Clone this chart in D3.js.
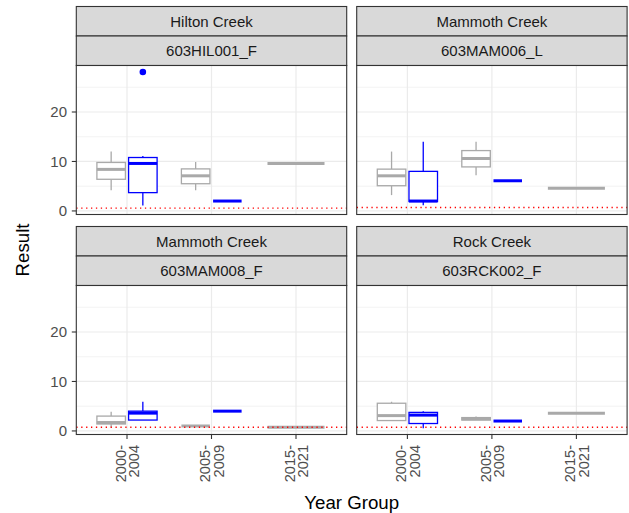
<!DOCTYPE html>
<html>
<head>
<meta charset="utf-8">
<script src="https://cdn.jsdelivr.net/npm/d3@7"></script>
<style>
  html, body { margin: 0; padding: 0; background: #ffffff; }
  svg { display: block; font-family: "Liberation Sans", Arial, sans-serif; }
</style>
</head>
<body>
<svg id="chart" width="629" height="513"></svg>
<script>
// ---------------- DATA ----------------
const panelTitles = ["Hilton Creek", "Mammoth Creek", "Mammoth Creek", "Rock Creek"];
const panelSites  = ["603HIL001_F", "603MAM006_L", "603MAM008_F", "603RCK002_F"];
const yearGroups  = ["2000-2004", "2005-2009", "2015-2021"];
const seriesNames = ["Reference", "Site"];
const seriesColors = ["#A9A9A9", "#0000FF"];
const thresholds  = [0.55, 0.7, 0.75, 0.75];
const yTicks      = [0, 10, 20];
const yMinorTicks = [5, 15, 25];

// box-plot summaries (one entry per box)
const boxPanel  = [0, 0, 0, 0, 0,   1, 1, 1, 1, 1,   2, 2, 2, 2, 2,   3, 3, 3, 3, 3];
const boxYear   = [0, 0, 1, 1, 2,   0, 0, 1, 1, 2,   0, 0, 1, 1, 2,   0, 0, 1, 1, 2];
const boxSeries = [0, 1, 0, 1, 0,   0, 1, 0, 1, 0,   0, 1, 0, 1, 0,   0, 1, 0, 1, 0];
const boxLow    = [4.2, 1.1, 4.2, 2.0, 9.6,   3.2, 1.15, 7.2, 6.1, 4.6,   0.7, 2.2, 1.0, 4.0, 0.75,   2.1, 0.55, 2.2, 2.0, 3.6];
const boxQ1     = [6.4, 3.7, 5.5, 2.0, 9.6,   5.1, 1.9, 8.9, 6.1, 4.6,    1.4, 2.2, 1.0, 4.0, 0.75,   2.1, 1.5, 2.2, 2.0, 3.6];
const boxMed    = [8.4, 9.6, 7.1, 2.0, 9.6,   7.1, 2.0, 10.6, 6.1, 4.6,   1.7, 3.6, 1.0, 4.0, 0.75,   3.1, 3.2, 2.45, 2.0, 3.6];
const boxQ3     = [9.8, 10.8, 8.5, 2.0, 9.6,  8.45, 8.0, 12.2, 6.1, 4.6,  3.0, 4.0, 1.0, 4.0, 0.75,   5.6, 3.75, 2.7, 2.0, 3.6];
const boxHigh   = [12.0, 11.1, 9.9, 2.0, 9.6, 12.0, 14.0, 14.0, 6.1, 4.6, 3.9, 5.9, 1.0, 4.0, 0.75,   5.9, 4.0, 2.9, 2.0, 3.6];

// outliers
const outPanel  = [0];
const outYear   = [0];
const outSeries = [1];
const outValue  = [28.1];

// ---------------- LAYOUT ----------------
const svg = d3.select("#chart");
const colX = [76.3, 356.7];
const panelW = 270.4;
const rowTop = [6.5, 226.5];
const stripH = 29.5;
const panelH = 149;
const yDomain = [-0.72, 29.4];
const fontSize = 15;

const panels = panelTitles.map((t, i) => {
  const col = i % 2, row = Math.floor(i / 2);
  const x0 = colX[col];
  const top = rowTop[row];
  const py0 = top + 2 * stripH;
  return {i, col, row, x0, top, py0, title: t, site: panelSites[i]};
});

const boxes = boxPanel.map((p, k) => ({
  panel: p, year: yearGroups[boxYear[k]], series: boxSeries[k],
  lo: boxLow[k], q1: boxQ1[k], med: boxMed[k], q3: boxQ3[k], hi: boxHigh[k]
}));

panels.forEach(P => {
  const g = svg.append("g");
  const x = d3.scalePoint().domain(yearGroups).range([P.x0, P.x0 + panelW]).padding(0.6);
  const y = d3.scaleLinear().domain(yDomain).range([P.py0 + panelH, P.py0]);
  const step = x.step();
  const dodgeW = step * 0.75;

  // strips
  [P.title, P.site].forEach((txt, j) => {
    const sy = P.top + j * stripH;
    g.append("rect").attr("x", P.x0).attr("y", sy).attr("width", panelW).attr("height", stripH)
      .attr("fill", "#D9D9D9").attr("stroke", "#333333").attr("stroke-width", 1.1);
    g.append("text").attr("x", P.x0 + panelW / 2).attr("y", sy + stripH / 2 + 5.6)
      .attr("text-anchor", "middle").attr("font-size", fontSize).attr("fill", "#1A1A1A").text(txt);
  });

  // panel background
  g.append("rect").attr("x", P.x0).attr("y", P.py0).attr("width", panelW).attr("height", panelH).attr("fill", "#ffffff");

  // grid
  g.selectAll(".gmin").data(yMinorTicks).join("line")
    .attr("x1", P.x0).attr("x2", P.x0 + panelW).attr("y1", d => y(d)).attr("y2", d => y(d))
    .attr("stroke", "#EBEBEB").attr("stroke-width", 0.6);
  g.selectAll(".gmaj").data(yTicks).join("line")
    .attr("x1", P.x0).attr("x2", P.x0 + panelW).attr("y1", d => y(d)).attr("y2", d => y(d))
    .attr("stroke", "#EBEBEB").attr("stroke-width", 1.2);
  g.selectAll(".gx").data(yearGroups).join("line")
    .attr("x1", d => x(d)).attr("x2", d => x(d)).attr("y1", P.py0).attr("y2", P.py0 + panelH)
    .attr("stroke", "#EBEBEB").attr("stroke-width", 1.2);

  // boxes
  const pb = boxes.filter(b => b.panel === P.i);
  pb.forEach(b => {
    const same = pb.filter(o => o.year === b.year);
    const n = same.length;
    const idx = same.indexOf(b);
    const slot = dodgeW / n;
    const cx = x(b.year) - dodgeW / 2 + slot * (idx + 0.5);
    const bw = slot * 0.9;
    const col = seriesColors[b.series];
    const bg = g.append("g");
    bg.append("line").attr("x1", cx).attr("x2", cx).attr("y1", y(b.hi)).attr("y2", y(b.q3))
      .attr("stroke", col).attr("stroke-width", 1.3);
    bg.append("line").attr("x1", cx).attr("x2", cx).attr("y1", y(b.q1)).attr("y2", y(b.lo))
      .attr("stroke", col).attr("stroke-width", 1.3);
    bg.append("rect").attr("x", cx - bw / 2).attr("y", y(b.q3)).attr("width", bw)
      .attr("height", Math.max(0, y(b.q1) - y(b.q3)))
      .attr("fill", "#ffffff").attr("stroke", col).attr("stroke-width", 1.3);
    bg.append("line").attr("x1", cx - bw / 2).attr("x2", cx + bw / 2).attr("y1", y(b.med)).attr("y2", y(b.med))
      .attr("stroke", col).attr("stroke-width", 3);
    // outliers for this box
    outPanel.forEach((op, k) => {
      if (op === P.i && yearGroups[outYear[k]] === b.year && outSeries[k] === b.series) {
        bg.append("circle").attr("cx", cx).attr("cy", y(outValue[k])).attr("r", 3.3).attr("fill", col);
      }
    });
  });

  // threshold line
  g.append("line").attr("x1", P.x0).attr("x2", P.x0 + panelW)
    .attr("y1", y(thresholds[P.i])).attr("y2", y(thresholds[P.i]))
    .attr("stroke", "#FF0000").attr("stroke-width", 1.3).attr("stroke-dasharray", "1.3,3.6");

  // panel border
  g.append("rect").attr("x", P.x0).attr("y", P.py0).attr("width", panelW).attr("height", panelH)
    .attr("fill", "none").attr("stroke", "#333333").attr("stroke-width", 1.1);

  // y axis on left column
  if (P.col === 0) {
    const ya = g.append("g");
    yTicks.forEach(t => {
      ya.append("line").attr("x1", P.x0 - 4.5).attr("x2", P.x0).attr("y1", y(t)).attr("y2", y(t))
        .attr("stroke", "#333333").attr("stroke-width", 1.1);
      ya.append("text").attr("x", P.x0 - 9.3).attr("y", y(t) + 5.3).attr("text-anchor", "end")
        .attr("font-size", fontSize).attr("fill", "#4D4D4D").text(t);
    });
  }
  // x axis on bottom row
  if (P.row === 1) {
    const yb = P.py0 + panelH;
    yearGroups.forEach(yg => {
      const xx = x(yg);
      g.append("line").attr("x1", xx).attr("x2", xx).attr("y1", yb).attr("y2", yb + 4.5)
        .attr("stroke", "#333333").attr("stroke-width", 1.1);
      const parts = yg.split("-");
      const lines = [parts[0] + "-", parts[1]];
      const offs = [-1.3, 12.4];
      lines.forEach((ln, j) => {
        g.append("text")
          .attr("transform", `translate(${xx + offs[j]},${yb + 10.5}) rotate(-90)`)
          .attr("text-anchor", "end").attr("font-size", 14.6).attr("fill", "#4D4D4D").text(ln);
      });
    });
  }
});

// axis titles
svg.append("text").attr("x", (colX[0] + colX[1] + panelW) / 2).attr("y", 508.5)
  .attr("text-anchor", "middle").attr("font-size", 18.7).attr("fill", "#000000").text("Year Group");
const pTop = rowTop[0] + 2 * stripH, pBot = rowTop[1] + 2 * stripH + panelH;
svg.append("text").attr("transform", `translate(28.8,${(pTop + pBot) / 2}) rotate(-90)`)
  .attr("text-anchor", "middle").attr("font-size", 18.7).attr("fill", "#000000").text("Result");
</script>
</body>
</html>
